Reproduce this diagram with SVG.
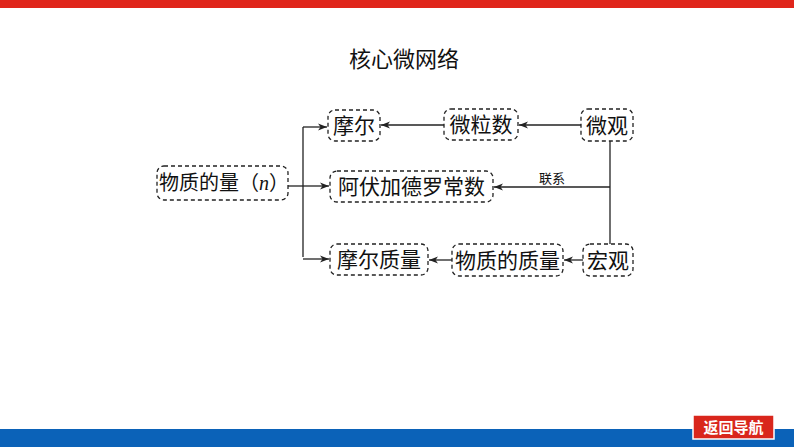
<svg xmlns="http://www.w3.org/2000/svg" width="794" height="447" viewBox="0 0 794 447">
<style>
.box{fill:#fff;stroke:#222;stroke-width:1.3;stroke-dasharray:4 3}
.t{font-family:"Noto Sans CJK SC","Liberation Serif",serif;font-size:21px;fill:#111;text-anchor:middle}
.ts{font-family:"Noto Sans CJK SC","Liberation Serif",serif;font-size:20px;fill:#111;text-anchor:start}
.ln{fill:none;stroke:#222;stroke-width:1.3}
</style>
<defs>
<marker id="ar" markerWidth="10" markerHeight="8" refX="9" refY="4" orient="auto" markerUnits="userSpaceOnUse">
<path d="M0,0.5 L9,4 L0,7.5 L2.5,4 Z" fill="#222"/>
</marker>
</defs>
<rect x="0" y="0" width="794" height="8" fill="#e0261b"/>
<rect x="0" y="429" width="794" height="18" fill="#0b62b8"/>
<g id="nav">
<rect x="693" y="415" width="81" height="24" fill="#d9261c" stroke="#fff" stroke-width="1.5"/>
<text x="733.5" y="433" font-family="Noto Sans CJK SC,sans-serif" font-size="15" font-weight="bold" fill="#fff" text-anchor="middle">返回导航</text>
</g>
<text x="404" y="67" font-family="Noto Sans CJK SC,sans-serif" font-size="22" fill="#111" text-anchor="middle">核心微网络</text>
<g id="connectors">
<path class="ln" d="M288,186 H303"/>
<path class="ln" d="M303,127 V257"/>
<path class="ln" d="M303,127 H327" marker-end="url(#ar)"/>
<path class="ln" d="M303,186 H329" marker-end="url(#ar)"/>
<path class="ln" d="M303,259 H329" marker-end="url(#ar)"/>
<path class="ln" d="M444,125 H381" marker-end="url(#ar)"/>
<path class="ln" d="M581,125 H519" marker-end="url(#ar)"/>
<path class="ln" d="M452,260 H429" marker-end="url(#ar)"/>
<path class="ln" d="M583,260 H564" marker-end="url(#ar)"/>
<path class="ln" d="M610,141 V244"/>
<path class="ln" d="M610,187 H494" marker-end="url(#ar)"/>
<text x="552" y="183" font-family="Noto Sans CJK SC,sans-serif" font-size="13" fill="#111" text-anchor="middle">联系</text>
</g>
<g id="n_amount">
<rect class="box" x="157" y="166" width="131" height="34" rx="7"/>
<text class="ts" x="159" y="190">物质的量（<tspan font-family="Liberation Serif,serif" font-style="italic">n</tspan>）</text>
</g>
<g id="mole">
<rect class="box" x="328" y="110" width="52" height="31" rx="7"/>
<text class="t" x="354" y="133">摩尔</text>
</g>
<g id="particles">
<rect class="box" x="444" y="109" width="74" height="31" rx="7"/>
<text class="t" x="481" y="132">微粒数</text>
</g>
<g id="micro">
<rect class="box" x="581" y="109" width="52" height="32" rx="7"/>
<text class="t" x="607" y="133">微观</text>
</g>
<g id="avogadro">
<rect class="box" x="330" y="171" width="163" height="31" rx="7"/>
<text class="t" x="411.5" y="194">阿伏加德罗常数</text>
</g>
<g id="molar_mass">
<rect class="box" x="330" y="244" width="98" height="31" rx="7"/>
<text class="t" x="379" y="267">摩尔质量</text>
</g>
<g id="mass">
<rect class="box" x="452" y="244" width="111" height="32" rx="7"/>
<text class="t" x="507.5" y="268">物质的质量</text>
</g>
<g id="macro">
<rect class="box" x="583" y="244" width="50" height="32" rx="7"/>
<text class="t" x="608" y="268">宏观</text>
</g>
</svg>
